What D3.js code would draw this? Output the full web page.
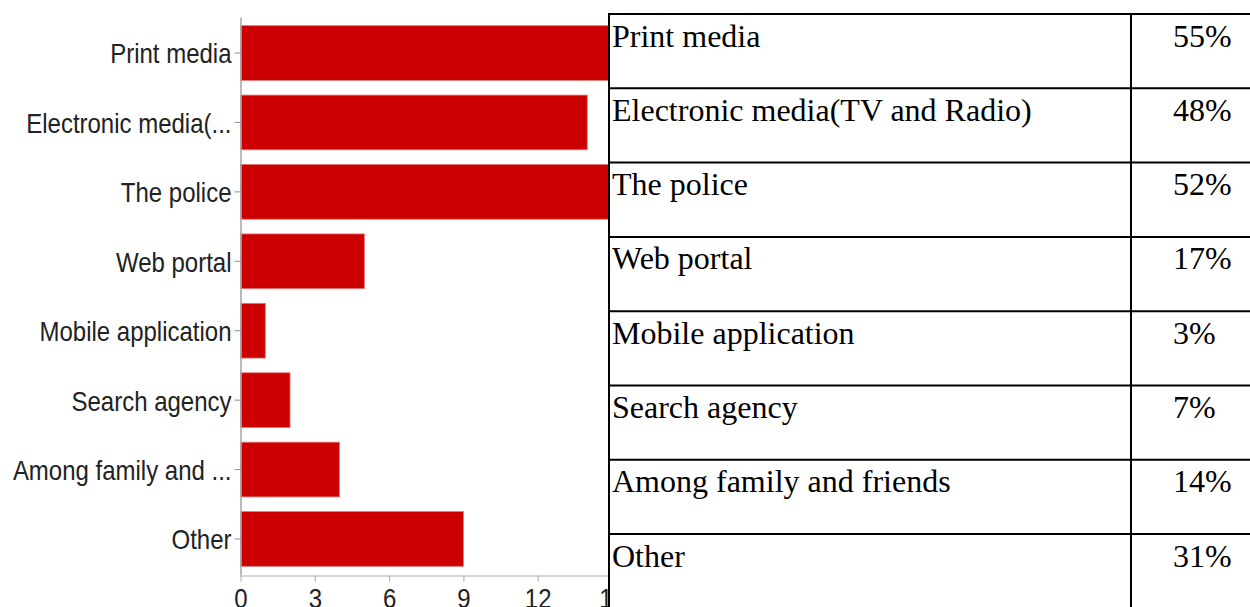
<!DOCTYPE html>
<html>
<head>
<meta charset="utf-8">
<script src="https://cdn.jsdelivr.net/npm/d3@7"></script>
<style>
  html, body { margin: 0; padding: 0; background: #fff; overflow: hidden; }
  svg { display: block; }
</style>
</head>
<body>
<svg id="chart" width="1250" height="607"></svg>
<script>
// Survey responses: where respondents heard about missing persons
const axisLabels = ["Print media", "Electronic media(...", "The police", "Web portal",
                    "Mobile application", "Search agency", "Among family and ...", "Other"];
const counts = [16, 14, 15, 5, 1, 2, 4, 9];
const xTicks = [0, 3, 6, 9, 12, 15, 18];

const tableLabels = ["Print media", "Electronic media(TV and Radio)", "The police", "Web portal",
                     "Mobile application", "Search agency", "Among family and friends", "Other"];
const shares = ["55%", "48%", "52%", "17%", "3%", "7%", "14%", "31%"];

const svg = d3.select("#chart");

// ---- bar chart ----
const x = d3.scaleLinear().domain([0, 18]).range([240.5, 686.3]);
const y = d3.scaleBand().domain(axisLabels).range([17, 575])
  .paddingInner(0.212).paddingOuter(0.125);

const labelScale = "scale(1,1.14)";

svg.append("g")
  .selectAll("rect")
  .data(counts)
  .join("rect")
  .attr("x", x(0))
  .attr("y", (d, i) => y(axisLabels[i]))
  .attr("width", d => x(d) - x(0))
  .attr("height", y.bandwidth())
  .attr("fill", "#cc0000")
  .attr("stroke", "#e57373")
  .attr("stroke-width", 0.8);

const xAxis = svg.append("g")
  .attr("transform", "translate(0,575.5)")
  .call(d3.axisBottom(x).tickValues(xTicks).tickSizeInner(6).tickSizeOuter(0).tickPadding(5.5));
xAxis.select(".domain").attr("stroke", "#c8c8c8").attr("stroke-width", 1.6);
xAxis.selectAll(".tick line").attr("stroke", "#b5b5b5").attr("stroke-width", 1.2);
xAxis.selectAll(".tick text")
  .attr("fill", "#222")
  .style("font-family", "'Liberation Sans', Arial, sans-serif")
  .style("font-size", "24px")
  .attr("transform", labelScale);

const yAxis = svg.append("g")
  .attr("transform", "translate(240.5,0)")
  .call(d3.axisLeft(y).tickSizeInner(6).tickSizeOuter(0).tickPadding(3));
yAxis.select(".domain").attr("stroke", "#aaaaaa").attr("stroke-width", 1.6);
yAxis.selectAll(".tick line").attr("stroke", "#999").attr("stroke-width", 1.1);
yAxis.selectAll(".tick text")
  .attr("fill", "#222")
  .attr("dy", "0.38em")
  .style("font-family", "'Liberation Sans', Arial, sans-serif")
  .style("font-size", "24px")
  .attr("transform", labelScale);

// ---- summary table ----
const rowTop = 14, rowH = 74.3, tableLeft = 609, colDiv = 1131, tableRight = 1252;
const rows = d3.scaleBand().domain(d3.range(tableLabels.length))
  .range([rowTop, rowTop + rowH * tableLabels.length]);

const table = svg.append("g");
table.append("rect")
  .attr("x", tableLeft).attr("y", rowTop)
  .attr("width", tableRight - tableLeft).attr("height", 607 - rowTop + 10)
  .attr("fill", "#fff");

const cells = table.selectAll("g.row")
  .data(tableLabels)
  .join("g")
  .attr("class", "row")
  .attr("transform", (d, i) => `translate(0,${rows(i)})`);

cells.append("text")
  .attr("x", tableLeft + 3)
  .attr("y", 32.5)
  .text(d => d);

cells.append("text")
  .attr("x", 1173)
  .attr("y", 32.5)
  .text((d, i) => shares[i]);

cells.selectAll("text")
  .attr("fill", "#000")
  .style("font-family", "'Liberation Serif', 'Times New Roman', serif")
  .style("font-size", "32px");

// grid lines
table.selectAll("line.h")
  .data(d3.range(tableLabels.length + 1))
  .join("line")
  .attr("class", "h")
  .attr("x1", tableLeft - 1).attr("x2", tableRight)
  .attr("y1", i => rows(0) + i * rows.step())
  .attr("y2", i => rows(0) + i * rows.step())
  .attr("stroke", "#000").attr("stroke-width", 2);

table.selectAll("line.v")
  .data([tableLeft, colDiv])
  .join("line")
  .attr("class", "v")
  .attr("x1", d => d).attr("x2", d => d)
  .attr("y1", rowTop - 1).attr("y2", 620)
  .attr("stroke", "#000").attr("stroke-width", 2);
</script>
</body>
</html>
